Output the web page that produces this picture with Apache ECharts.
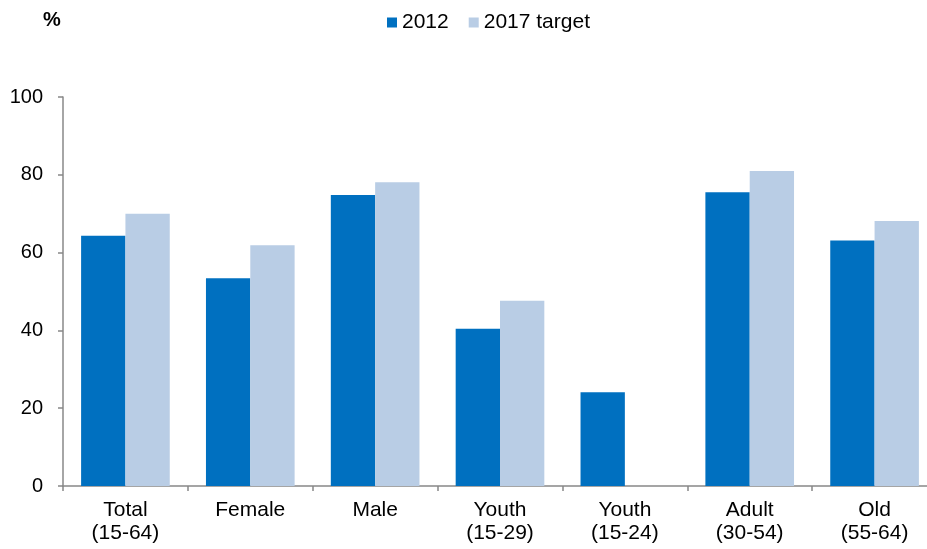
<!DOCTYPE html>
<html>
<head>
<meta charset="utf-8">
<script src="https://cdn.jsdelivr.net/npm/echarts@6/dist/echarts.min.js"></script>
<style>html,body{margin:0;padding:0;background:#fff}#c{width:927px;height:549px}</style>
</head>
<body>
<div id="c"></div>
<script>
const categories = ['Total\n(15-64)', 'Female', 'Male', 'Youth\n(15-29)', 'Youth\n(15-24)', 'Adult\n(30-54)', 'Old\n(55-64)'];
const series2012 = [64.3, 53.4, 74.8, 40.4, 24.1, 75.5, 63.1];
const seriesTarget = [70.0, 61.9, 78.1, 47.6, null, 81.0, 68.1];
const yTicks = [0, 20, 40, 60, 80, 100];

const font = 'Arial, "Liberation Sans", sans-serif';
const chart = echarts.init(document.getElementById('c'));
chart.setOption({
  animation: false,
  textStyle: { fontFamily: font },
  title: {
    text: '%', left: 38, top: 5,
    textStyle: { fontSize: 20, fontWeight: 'bold', color: '#000', fontFamily: font }
  },
  legend: {
    left: 382, top: 7,
    itemWidth: 10, itemHeight: 10, itemGap: 20,
    icon: 'rect',
    textStyle: { fontSize: 21, color: '#000', fontFamily: font },
    data: ['2012', '2017 target']
  },
  grid: { left: 63, right: -10, top: 97, bottom: 63, containLabel: false, outerBoundsMode: 'none' },
  xAxis: {
    type: 'category',
    data: categories,
    axisLine: { lineStyle: { color: '#888', width: 1.5 } },
    axisTick: { show: true, length: 5, lineStyle: { color: '#888', width: 1.5 } },
    axisLabel: { fontSize: 21, color: '#000', lineHeight: 23, margin: 13, fontFamily: font, interval: 0 }
  },
  yAxis: {
    type: 'value',
    min: yTicks[0], max: yTicks[yTicks.length - 1], interval: 20,
    axisLine: { show: true, lineStyle: { color: '#888', width: 1.5 } },
    axisTick: { show: true, length: 5, lineStyle: { color: '#888', width: 1.5 } },
    splitLine: { show: false },
    axisLabel: { fontSize: 20, color: '#000', margin: 20, fontFamily: font }
  },
  series: [
    {
      name: '2012', type: 'bar', data: series2012,
      barGap: '0%', barCategoryGap: '29%',
      itemStyle: { color: '#0070C0' }
    },
    {
      name: '2017 target', type: 'bar', data: seriesTarget,
      barGap: '0%', barCategoryGap: '29%',
      itemStyle: { color: '#B9CDE5' }
    }
  ]
});
</script>
</body>
</html>
